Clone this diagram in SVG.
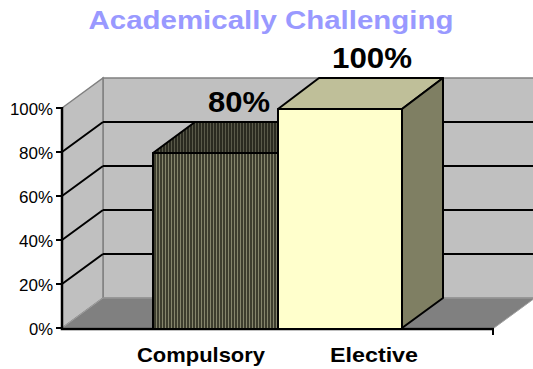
<svg xmlns="http://www.w3.org/2000/svg" width="533" height="369" viewBox="0 0 533 369">
<style>
.wall{fill:#C0C0C0;stroke:#808080;stroke-width:1.5}
.floor{fill:#808080;stroke:#A0A0A0;stroke-width:1}
.grid{stroke:#000;stroke-width:2;fill:none}
.axis{stroke:#000;stroke-width:2.5;fill:none}
.bar{stroke:#000;stroke-width:2;stroke-linejoin:round}
.tick{font-family:"Liberation Sans",Arial,sans-serif;font-size:16px;fill:#000;text-anchor:end}
.cat{font-family:"Liberation Sans",Arial,sans-serif;font-size:21px;font-weight:bold;fill:#000;text-anchor:middle}
.val{font-family:"Liberation Sans",Arial,sans-serif;font-size:29px;font-weight:bold;fill:#000;text-anchor:middle}
.title{font-family:"Liberation Sans",Arial,sans-serif;font-size:25px;font-weight:bold;fill:#9999FF;text-anchor:middle}
</style>
<defs>
<pattern id="stripeFront" width="3" height="10" patternUnits="userSpaceOnUse">
<rect width="3" height="10" fill="#3d3d2e"/>
<rect width="1" height="10" fill="#85856c"/>
</pattern>
<pattern id="stripeTop" width="3" height="10" patternUnits="userSpaceOnUse">
<rect width="3" height="10" fill="#2a2a20"/>
<rect width="1" height="10" fill="#5a5a4a"/>
</pattern>
</defs>
<g id="title"><text class="title" x="271" y="29" textLength="365" lengthAdjust="spacingAndGlyphs">Academically Challenging</text></g>
<g id="walls">
<rect class="wall" x="103" y="78" width="432" height="220"/>
<polygon class="wall" points="62,108 103,78 103,298 62,328"/>
<polygon class="floor" points="62,328 103,298 535,298 494,328"/>
</g>
<g id="gridlines">
<path class="grid" d="M103,122H533M103,166H533M103,210H533M103,254H533"/>
<path class="grid" d="M62,152L103,122M62,196L103,166M62,240L103,210M62,284L103,254"/>
</g>
<g id="axes">
<path class="axis" d="M62,107V329H494"/>
<path class="grid" d="M56,108H62M56,152H62M56,196H62M56,240H62M56,284H62M56,328H62M493,329V335"/>
</g>
<g id="tick-labels">
<text class="tick" x="53" y="115" textLength="43" lengthAdjust="spacingAndGlyphs">100%</text>
<text class="tick" x="53" y="159" textLength="34" lengthAdjust="spacingAndGlyphs">80%</text>
<text class="tick" x="53" y="203" textLength="34" lengthAdjust="spacingAndGlyphs">60%</text>
<text class="tick" x="53" y="247" textLength="34" lengthAdjust="spacingAndGlyphs">40%</text>
<text class="tick" x="53" y="291" textLength="34" lengthAdjust="spacingAndGlyphs">20%</text>
<text class="tick" x="53" y="335" textLength="24" lengthAdjust="spacingAndGlyphs">0%</text>
</g>
<g id="bar-compulsory">
<polygon class="bar" points="153,153 195,122 320,122 278,153" fill="url(#stripeTop)"/>
<rect class="bar" x="153" y="153" width="125" height="176" fill="url(#stripeFront)"/>
</g>
<g id="bar-elective">
<polygon class="bar" points="278,109 319,78 443,78 402,109" fill="#BFBF99"/>
<polygon class="bar" points="402,109 443,78 443,298 402,328" fill="#7F7F63"/>
<rect class="bar" x="278" y="109" width="124" height="220" fill="#FFFFCC"/>
</g>
<g id="value-labels">
<text class="val" x="239" y="112" textLength="62" lengthAdjust="spacingAndGlyphs">80%</text>
<text class="val" x="372" y="68" textLength="80" lengthAdjust="spacingAndGlyphs">100%</text>
</g>
<g id="category-labels">
<text class="cat" x="201" y="362" textLength="128" lengthAdjust="spacingAndGlyphs">Compulsory</text>
<text class="cat" x="374" y="362" textLength="88" lengthAdjust="spacingAndGlyphs">Elective</text>
</g>
</svg>
